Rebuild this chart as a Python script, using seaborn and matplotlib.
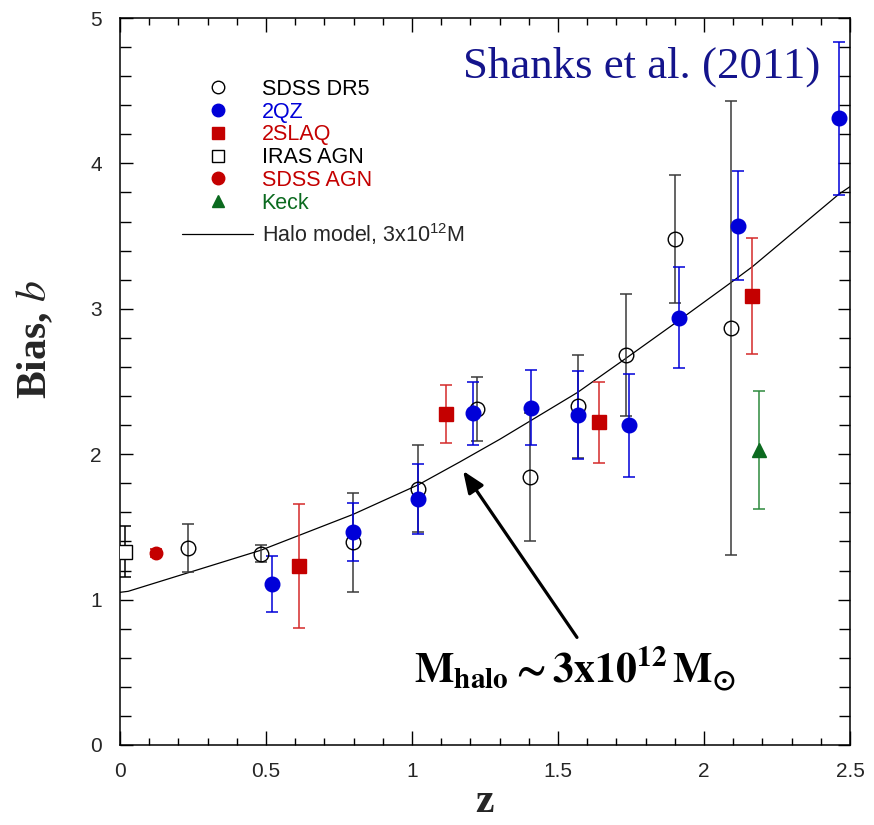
import numpy as np
import pandas as pd
import matplotlib
matplotlib.use("Agg")
import matplotlib.pyplot as plt
import seaborn as sns
from matplotlib.lines import Line2D
from matplotlib.ticker import MultipleLocator, FixedLocator
from matplotlib import font_manager

# ---------------- data ----------------
dr5_z = [0.232, 0.483, 0.797, 1.022, 1.222, 1.404, 1.567, 1.733, 1.900, 2.092]
dr5_b = [1.354, 1.317, 1.395, 1.763, 2.310, 1.846, 2.330, 2.680, 3.480, 2.870]
dr5_e = [0.166, 0.060, 0.340, 0.300, 0.220, 0.440, 0.355, 0.420, 0.440, 1.560]

qz_z = [0.521, 0.798, 1.022, 1.210, 1.409, 1.570, 1.742, 1.914, 2.115, 2.463]
qz_b = [1.106, 1.464, 1.690, 2.280, 2.320, 2.270, 2.200, 2.940, 3.570, 4.310]
qz_e = [0.194, 0.200, 0.240, 0.220, 0.260, 0.300, 0.355, 0.350, 0.375, 0.525]

slaq_z = [0.613, 1.116, 1.640, 2.166]
slaq_b = [1.230, 2.276, 2.220, 3.090]
slaq_e = [0.425, 0.200, 0.280, 0.400]

iras_z = [0.017]
iras_b = [1.330]
iras_e = [0.175]

sagn_z = [0.124]
sagn_b = [1.320]
sagn_e = [0.030]

keck_z = [2.187]
keck_b = [2.030]
keck_e = [0.405]

halo_z = [0.0, 0.028, 0.483, 0.798, 1.022, 1.164, 1.301, 1.567, 1.733, 1.914, 2.092, 2.166, 2.463, 2.5]
halo_b = [1.050, 1.057, 1.340, 1.586, 1.790, 1.947, 2.103, 2.425, 2.660, 2.920, 3.180, 3.290, 3.790, 3.840]

legend_labels = ["SDSS DR5", "2QZ", "2SLAQ", "IRAS AGN", "SDSS AGN", "Keck"]
x_ticks = [0, 0.5, 1, 1.5, 2, 2.5]
x_ticklabels = ["0", "0.5", "1", "1.5", "2", "2.5"]
y_ticks = [0, 1, 2, 3, 4, 5]
y_ticklabels = ["0", "1", "2", "3", "4", "5"]

# ---------------- style ----------------
sns.set_theme(style="ticks")
avail = {f.name for f in font_manager.fontManager.ttflist}
sans = "Liberation Sans Narrow" if "Liberation Sans Narrow" in avail else "Liberation Sans"
plt.rcParams["font.family"] = ["Liberation Sans", "DejaVu Sans"]

BLUE = "#0000d8"
RED = "#c40000"
GREEN = "#0b6a1f"
NAVY = "#14148c"

fig = plt.figure(figsize=(8.74, 8.25), dpi=100)
ax = fig.add_axes([120 / 874, 1 - 745 / 825, 730 / 874, (745 - 18) / 825])
ax.set_facecolor("white")

# halo model curve
halo_df = pd.DataFrame({"z": halo_z, "b": halo_b})
sns.lineplot(data=halo_df, x="z", y="b", ax=ax, color="black", lw=0.9,
             estimator=None, sort=False, zorder=2)

def series(z, b, e, marker, mfc, mec, ecol, ms=10):
    ax.errorbar(z, b, yerr=e, fmt="none", ecolor=ecol, elinewidth=1.1,
                capsize=4, capthick=1.1, zorder=3)
    ax.plot(z, b, linestyle="none", marker=marker, ms=ms, mfc=mfc, mec=mec,
            mew=1.0, zorder=4)

series(dr5_z, dr5_b, dr5_e, "o", "none", "black", "#3a3a3a", ms=10.5)
series(qz_z, qz_b, qz_e, "o", BLUE, BLUE, BLUE, ms=10.5)
series(slaq_z, slaq_b, slaq_e, "s", RED, RED, "#d42a2a", ms=9.5)
series(iras_z, iras_b, iras_e, "s", "white", "black", "black", ms=9.5)
series(sagn_z, sagn_b, sagn_e, "o", RED, RED, RED, ms=9)
series(keck_z, keck_b, keck_e, "^", GREEN, GREEN, "#2d8a3d", ms=9.5)

# axes
ax.set_xlim(0, 2.5)
ax.set_ylim(0, 5)
ax.xaxis.set_major_locator(FixedLocator(x_ticks))
ax.set_xticklabels(x_ticklabels)
ax.yaxis.set_major_locator(FixedLocator(y_ticks))
ax.set_yticklabels(y_ticklabels)
ax.xaxis.set_minor_locator(MultipleLocator(0.1))
ax.yaxis.set_minor_locator(MultipleLocator(0.2))
ax.tick_params(which="both", direction="in", top=True, right=True, color="black", width=1.0)
ax.tick_params(axis="x", which="major", length=10, pad=12, labelsize=15)
ax.tick_params(axis="x", which="minor", length=5)
ax.tick_params(axis="y", which="major", length=9, pad=13, labelsize=15)
ax.tick_params(axis="y", which="minor", length=8)
for lab in ax.get_xticklabels() + ax.get_yticklabels():
    lab.set_family([sans, "Liberation Sans", "DejaVu Sans"])
for s in ax.spines.values():
    s.set_visible(True)
    s.set_color("black")
    s.set_linewidth(1.1)

ax.set_xlabel("z", family=["Liberation Serif"], fontweight="bold", fontsize=30, labelpad=2)
ax.set_ylabel(r"Bias, $b$", family=["Liberation Serif"], fontweight="bold", fontsize=30,
              math_fontfamily="stix")
ax.yaxis.set_label_coords((55 - 120) / 730, (745 - 340) / 727)

# legends
handles = [
    Line2D([], [], ls="none", marker="o", ms=9, mfc="none", mec="black"),
    Line2D([], [], ls="none", marker="o", ms=9, mfc=BLUE, mec=BLUE),
    Line2D([], [], ls="none", marker="s", ms=8.5, mfc=RED, mec=RED),
    Line2D([], [], ls="none", marker="s", ms=8.5, mfc="none", mec="black"),
    Line2D([], [], ls="none", marker="o", ms=9, mfc=RED, mec=RED),
    Line2D([], [], ls="none", marker="^", ms=9, mfc=GREEN, mec=GREEN),
]
text_colors = ["black", BLUE, RED, "black", RED, GREEN]
leg_fs = 15.5
leg1 = ax.legend(handles, legend_labels, loc="upper left",
                 bbox_to_anchor=(196 / 874, 1 - 79 / 825), bbox_transform=fig.transFigure,
                 frameon=False, fontsize=leg_fs, handlelength=2.0, handletextpad=1.05,
                 labelspacing=0.08, borderpad=0, borderaxespad=0)
for t, c in zip(leg1.get_texts(), text_colors):
    t.set_color(c)
ax.add_artist(leg1)

leg2 = ax.legend([Line2D([], [], color="black", lw=0.9)],
                 [r"Halo model, 3x10$\mathregular{^{12}}$M"], loc="upper left",
                 bbox_to_anchor=(182 / 874, 1 - 221 / 825), bbox_transform=fig.transFigure,
                 frameon=False, fontsize=leg_fs, handlelength=3.3, handletextpad=0.42,
                 borderpad=0, borderaxespad=0)

# annotations
ax.text(1.175, 4.59, "Shanks et al. (2011)", color=NAVY, family=["Liberation Serif"],
        fontsize=32.3, ha="left", va="baseline")
ax.annotate("", xy=(1.175, 1.885), xytext=(1.565, 0.74),
            arrowprops=dict(arrowstyle="-|>,head_length=1.1,head_width=0.45",
                            color="black", lw=2.3, shrinkA=0, shrinkB=0))
ax.text(1.56, 0.43, r"$\mathbf{M_{halo}\sim 3x10^{12}\,M_{\odot}}$", fontsize=30,
        math_fontfamily="stix", ha="center", va="baseline", color="black")

fig.savefig("out.png", dpi=100, facecolor="white")
